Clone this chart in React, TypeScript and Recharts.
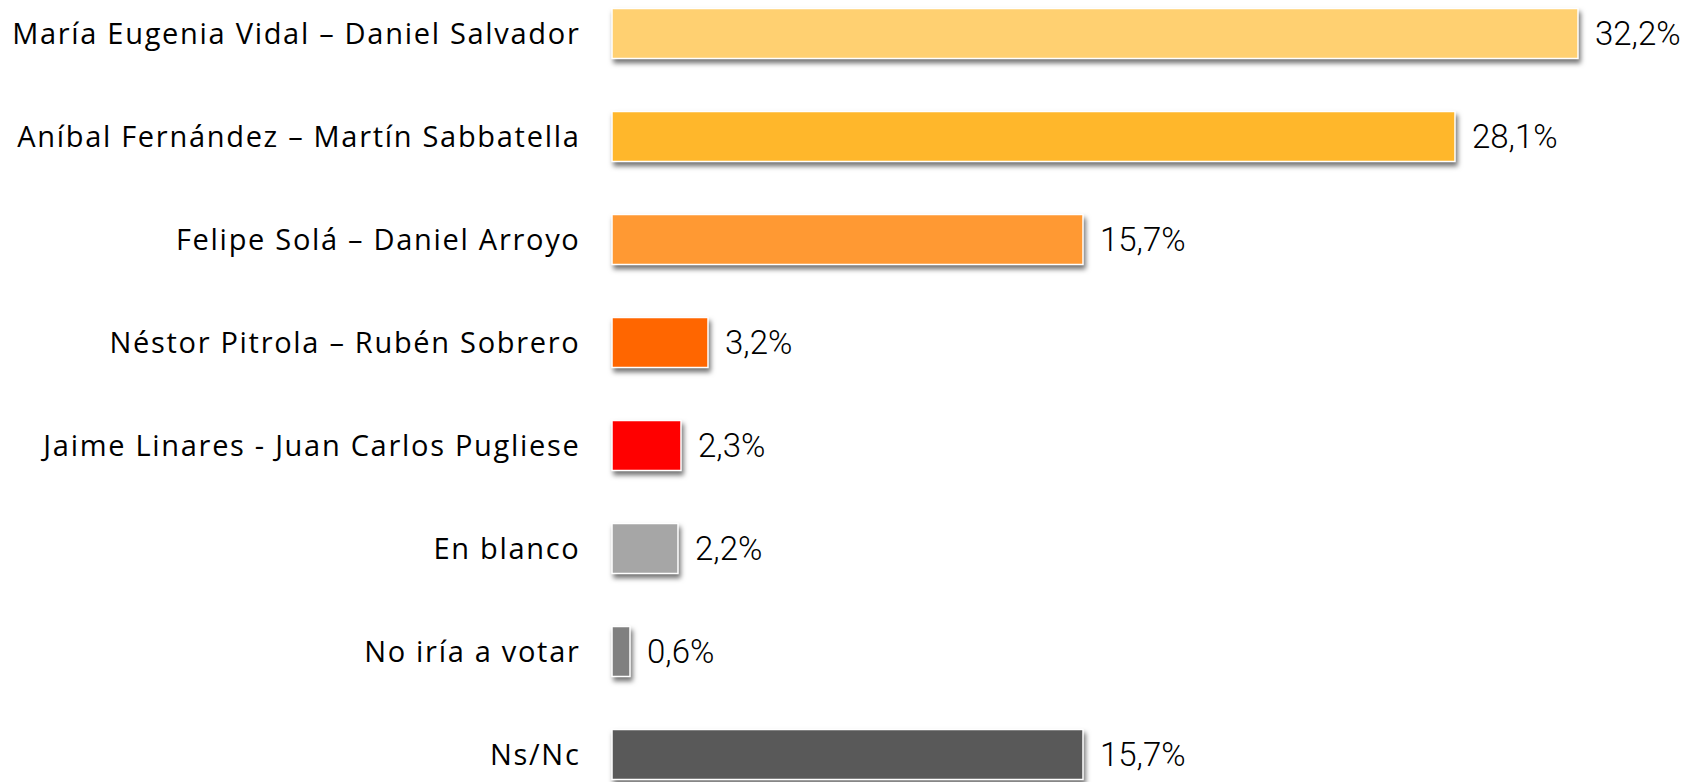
import React from "react";
import { BarChart, Bar, XAxis, YAxis, Cell, LabelList } from "recharts";

const categories = [
  "María Eugenia Vidal – Daniel Salvador",
  "Aníbal Fernández – Martín Sabbatella",
  "Felipe Solá – Daniel Arroyo",
  "Néstor Pitrola – Rubén Sobrero",
  "Jaime Linares - Juan Carlos Pugliese",
  "En blanco",
  "No iría a votar",
  "Ns/Nc",
];
const values = [32.2, 28.1, 15.7, 3.2, 2.3, 2.2, 0.6, 15.7];
const colors = ["#FFD071", "#FFB72B", "#FF9933", "#FF6600", "#FF0000", "#A6A6A6", "#808080", "#595959"];

const data = categories.map((name, i) => ({ name, value: values[i] }));

const fmt = (v: number) => v.toFixed(1).replace(".", ",") + "%";

const BarShape = (props: any) => {
  const { x, y, width, height, fill } = props;
  return (
    <rect
      x={x}
      y={y}
      width={width}
      height={height}
      fill={fill}
      stroke="#FFFFFF"
      strokeWidth={1.5}
      style={{ filter: "drop-shadow(2px 4px 2.5px rgba(0,0,0,0.55))" }}
    />
  );
};

export default function App() {
  return (
    <div style={{ position: "absolute", left: 0, top: 0, width: 1692, height: 782, overflow: "hidden", background: "#fff" }}>
      <div style={{ position: "absolute", left: 0, top: -18.5 }}>
        <BarChart
          width={1692}
          height={824}
          data={data}
          layout="vertical"
          margin={{ top: 0, right: 30, bottom: 0, left: 0 }}
          barCategoryGap={26.5}
        >
          <XAxis type="number" domain={[0, 35]} hide />
          <YAxis
            type="category"
            dataKey="name"
            width={612}
            tickLine={false}
            axisLine={false}
            tickSize={0}
            tickMargin={31.5}
            interval={0}
            tick={{ fill: "#000", fontSize: 29, fontFamily: "'Open Sans', sans-serif", letterSpacing: 1.7 }}
          />
          <Bar dataKey="value" isAnimationActive={false} shape={<BarShape />}>
            {data.map((d, i) => (
              <Cell key={i} fill={colors[i]} />
            ))}
            <LabelList
              dataKey="value"
              position="right"
              offset={17}
              formatter={(v: any) => fmt(Number(v))}
              style={{ fill: "#000", fontSize: 33, fontWeight: 300, fontFamily: "Roboto, sans-serif" }}
            />
          </Bar>
        </BarChart>
      </div>
    </div>
  );
}
